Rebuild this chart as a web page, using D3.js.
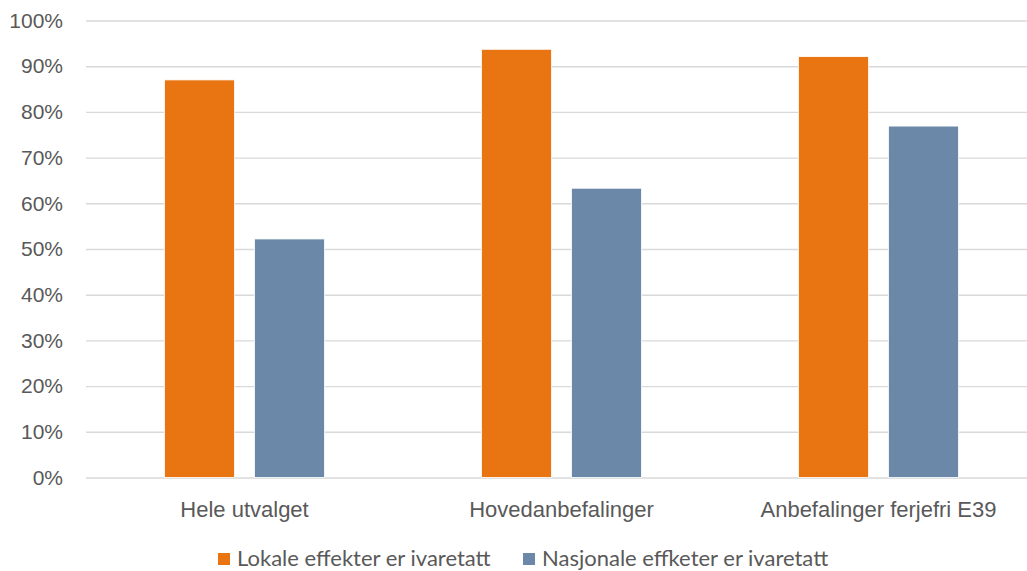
<!DOCTYPE html>
<html>
<head>
<meta charset="utf-8">
<script src="https://cdn.jsdelivr.net/npm/d3@7"></script>
<style>
  html, body { margin: 0; padding: 0; background: #fff; }
  svg { display: block; font-family: Lato, "Open Sans", sans-serif; }
</style>
</head>
<body>
<svg id="chart" width="1027" height="571"></svg>
<script>
// Share of cases where effects are taken care of, per selection
const categories = ["Hele utvalget", "Hovedanbefalinger", "Anbefalinger ferjefri E39"];
const seriesNames = ["Lokale effekter er ivaretatt", "Nasjonale effketer er ivaretatt"];
const lokale = [0.87, 0.937, 0.921];
const nasjonale = [0.522, 0.633, 0.769];
const yTicks = [0, 0.1, 0.2, 0.3, 0.4, 0.5, 0.6, 0.7, 0.8, 0.9, 1.0];
const colors = ["#E97512", "#6C88A8"];

const seriesValues = [lokale, nasjonale];
const rows = categories.map((c, i) => ({
  category: c,
  values: seriesNames.map((s, j) => ({ series: s, value: seriesValues[j][i] }))
}));

const svg = d3.select("#chart");
const textColor = "#595959";

const x0 = d3.scaleBand().domain(categories).range([86, 1037]).padding(0);
const x1 = d3.scaleBand().domain(seriesNames)
  .range([0, x0.bandwidth()])
  .paddingInner(0.222)
  .paddingOuter(0.872);
const y = d3.scaleLinear().domain([0, 1]).range([477.5, 20.5]);
const color = d3.scaleOrdinal().domain(seriesNames).range(colors);

// Horizontal gridlines with percentage labels
const yAxis = d3.axisLeft(y).tickValues(yTicks).tickFormat(d3.format(".0%"))
  .tickSize(-(x0.range()[1] - x0.range()[0])).tickPadding(23);
const gy = svg.append("g").attr("transform", `translate(${x0.range()[0]},0)`).call(yAxis);
gy.select(".domain").remove();
gy.selectAll(".tick line").attr("stroke", "#D9D9D9").attr("stroke-width", 1.4);
gy.selectAll(".tick text").attr("fill", textColor).attr("font-size", 21);

// Bars
const groups = svg.append("g").selectAll("g").data(rows).join("g")
  .attr("transform", d => `translate(${x0(d.category)},0)`);
groups.selectAll("rect").data(d => d.values).join("rect")
  .attr("x", d => x1(d.series))
  .attr("width", x1.bandwidth())
  .attr("y", d => y(d.value))
  .attr("height", d => y(0) - y(d.value))
  .attr("fill", d => color(d.series))
  .attr("stroke", "#fff")
  .attr("stroke-width", 0.8);

// Category labels
const xAxis = d3.axisBottom(x0).tickSize(0);
const gx = svg.append("g").attr("transform", `translate(0,${y(0)})`).call(xAxis);
gx.select(".domain").remove();
gx.selectAll(".tick text").attr("fill", textColor).attr("font-size", 22)
  .attr("y", 39).attr("dy", null);

// Legend
const legendX = [218, 523];
const legend = svg.append("g").selectAll("g").data(seriesNames).join("g")
  .attr("transform", (d, i) => `translate(${legendX[i]},552)`);
legend.append("rect").attr("width", 12).attr("height", 12).attr("y", 1)
  .attr("fill", d => color(d));
legend.append("text").attr("x", 19).attr("y", 14)
  .attr("fill", textColor).attr("font-size", 22).text(d => d);
</script>
</body>
</html>
